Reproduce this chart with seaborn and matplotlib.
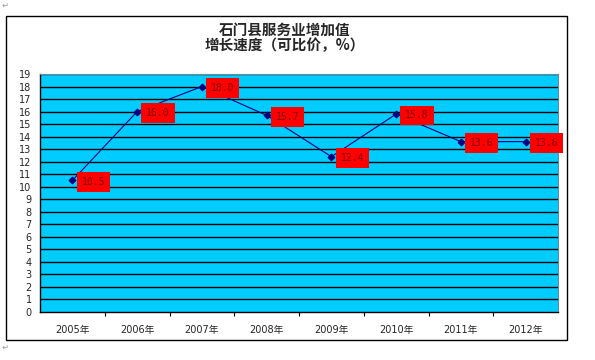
import matplotlib
matplotlib.use("Agg")
import matplotlib.pyplot as plt
import seaborn as sns
import pandas as pd
from matplotlib.patches import Rectangle
from matplotlib.ticker import FixedLocator

years = ["2005年", "2006年", "2007年", "2008年", "2009年", "2010年", "2011年", "2012年"]
growth = [10.5, 16.0, 18.0, 15.7, 12.4, 15.8, 13.6, 13.6]
labels = ["10.5", "16.0", "18.0", "15.7", "12.4", "15.8", "13.6", "13.6"]

sns.set_style("white")
plt.rcParams['font.family'] = ['DejaVu Sans', 'Noto Sans CJK SC']

df = pd.DataFrame({"year": years, "growth": growth})

fig = plt.figure(figsize=(5.95, 3.6), dpi=100)
ax = fig.add_axes([40 / 595, 1 - 312 / 360, 518 / 595, 238 / 360])
ax.set_facecolor("#00CCFF")

# horizontal black gridlines at each integer
for v in range(1, 20):
    ax.axhline(v, color="black", lw=1.0, zorder=1)

sns.lineplot(data=df, x="year", y="growth", ax=ax, color="#000080", lw=0.8,
             marker="D", markersize=3.5, markeredgecolor="#000080", zorder=3)

for i, (v, t) in enumerate(zip(growth, labels)):
    ax.annotate(t, (i, v), xytext=(6.5, -1), textcoords="offset points",
                va="center", ha="left", fontsize=7, color="#800000",
                family="DejaVu Sans Mono", clip_on=False, zorder=4,
                bbox=dict(boxstyle="square,pad=0.5", fc="#FF0000", ec="none"))

ax.set_xlim(-0.5, 7.5)
ax.set_ylim(0, 19)
ax.set_yticks(range(0, 20))
ax.set_xlabel("")
ax.set_ylabel("")
ax.tick_params(axis="y", length=0, pad=6, labelsize=7)
ax.tick_params(axis="x", which="major", length=0, pad=9, labelsize=7)
ax.xaxis.set_minor_locator(FixedLocator([k + 0.5 for k in range(7)]))
ax.tick_params(axis="x", which="minor", length=3, width=0.8, direction="out", color="black", bottom=True)

for s in ["left", "bottom"]:
    ax.spines[s].set_color("black")
    ax.spines[s].set_linewidth(1.0)
for s in ["top", "right"]:
    ax.spines[s].set_color("#6a8a9a")
    ax.spines[s].set_linewidth(0.8)

title_font = ['Noto Sans CJK SC', 'DejaVu Sans']
fig.text(285 / 595, 1 - 30 / 360, "石门县服务业增加值", ha="center", va="center",
         fontsize=10.5, fontweight="bold", family=title_font)
fig.text(285 / 595, 1 - 45 / 360, "增长速度（可比价，%）", ha="center", va="center",
         fontsize=10.5, fontweight="bold", family=title_font)

# outer chart border
fig.patches.append(Rectangle((6 / 595, 1 - 340 / 360), 561 / 595, 324 / 360,
                             transform=fig.transFigure, fill=False, ec="black", lw=1.0))

fig.text(2 / 595, 1 - 5 / 360, "↵", fontsize=6, color="#999999", va="center")
fig.text(2 / 595, 1 - 347 / 360, "↵", fontsize=6, color="#999999", va="center")

fig.savefig("out.png", dpi=100)
